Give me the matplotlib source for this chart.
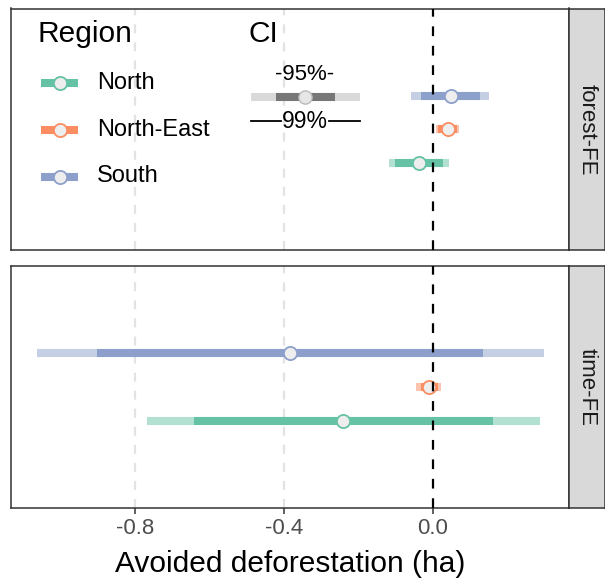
import matplotlib
matplotlib.use("Agg")
import matplotlib.pyplot as plt

plt.rcParams['font.family'] = ['Liberation Sans', 'DejaVu Sans']
plt.rcParams['lines.scale_dashes'] = False

# ---- data ----
regions = ["North", "North-East", "South"]
colors = ["#66C2A5", "#FC8D62", "#8DA0CB"]
panels = ["forest-FE", "time-FE"]

forest_est = [-0.037, 0.039, 0.048]
forest_lo95 = [-0.102, 0.014, -0.032]
forest_hi95 = [0.026, 0.064, 0.126]
forest_lo99 = [-0.118, 0.007, -0.059]
forest_hi99 = [0.044, 0.070, 0.151]

time_est = [-0.241, -0.012, -0.384]
time_lo95 = [-0.643, -0.033, -0.902]
time_hi95 = [0.161, 0.013, 0.134]
time_lo99 = [-0.769, -0.046, -1.063]
time_hi99 = [0.286, 0.021, 0.298]

xticks = [-0.8, -0.4, 0.0]
xtick_labels = ["-0.8", "-0.4", "0.0"]

panel_data = [
    (forest_est, forest_lo95, forest_hi95, forest_lo99, forest_hi99),
    (time_est, time_lo95, time_hi95, time_lo99, time_hi99),
]

W, H = 605, 578
fig = plt.figure(figsize=(W / 100, H / 100), dpi=100)

def fx(px):
    return px / W

def fy(py):
    return 1 - py / H

left_px, right_px = 11, 569
panel_px = [(8.5, 250), (266, 508)]
strip_right = 605

BAR_LW = 5.8
PT_MS = 9.5
border_col = "#333333"

axes = []
for i, (pname, (est, lo95, hi95, lo99, hi99)) in enumerate(zip(panels, panel_data)):
    top, bot = panel_px[i]
    ax = fig.add_axes([fx(left_px), fy(bot), fx(right_px - left_px), (bot - top) / H])
    axes.append(ax)
    ax.set_xlim(-1.133, 0.365)
    ax.set_ylim(1 - 2.6, 3 + 2.6)
    for xv in xticks[:-1]:
        ax.axvline(xv, color="#e3e3e3", lw=1.6, dashes=(6.5, 6.5), zorder=0)
    for j, r in enumerate(regions):
        y = j + 1
        ax.plot([lo99[j], hi99[j]], [y, y], color=colors[j], alpha=0.5, lw=BAR_LW,
                solid_capstyle='butt', zorder=2)
        ax.plot([lo95[j], hi95[j]], [y, y], color=colors[j], lw=BAR_LW,
                solid_capstyle='butt', zorder=3)
        ax.plot([est[j]], [y], marker='o', ms=PT_MS, mfc="#eeeeee", mec=colors[j],
                mew=1.3, zorder=4, ls='none')
    ax.axvline(0, color="black", lw=1.6, dashes=(7, 7), zorder=5)
    ax.set_yticks([])
    for s in ax.spines.values():
        s.set_color(border_col)
        s.set_linewidth(1.1)
    if i == 0:
        ax.set_xticks([])
    else:
        ax.set_xticks(xticks)
        ax.set_xticklabels(xtick_labels, fontsize=16, color="#4d4d4d")
        ax.tick_params(axis='x', length=4, width=1.1, color=border_col, pad=3)
        ax.set_xlabel("Avoided deforestation (ha)", fontsize=21.5, color="black", labelpad=8)

    # strip
    sax = fig.add_axes([fx(right_px), fy(bot), fx(strip_right - right_px), (bot - top) / H])
    sax.set_facecolor("#d9d9d9")
    sax.set_xticks([])
    sax.set_yticks([])
    for s in sax.spines.values():
        s.set_color(border_col)
        s.set_linewidth(1.1)
    sax.text(0.5, 0.5, pname, rotation=270, ha='center', va='center', fontsize=16,
             color="#1a1a1a", transform=sax.transAxes)

# ---- legend inside top panel (pixel coords -> axes coords) ----
ax0 = axes[0]
ptop, pbot = panel_px[0]

def ax_xy(px, py):
    return ((px - left_px) / (right_px - left_px), 1 - (py - ptop) / (pbot - ptop))

tr = ax0.transAxes
x, y = ax_xy(37, 34)
ax0.text(x, y, "Region", fontsize=21.5, ha='left', va='center', transform=tr)
key_y = [83, 130, 176.5]
for j, r in enumerate(regions):
    x1, y1 = ax_xy(40.5, key_y[j])
    x2, _ = ax_xy(78, key_y[j])
    xm, _ = ax_xy(60, key_y[j])
    ax0.plot([x1, x2], [y1, y1], color=colors[j], lw=BAR_LW, solid_capstyle='butt',
             transform=tr, zorder=6)
    ax0.plot([xm], [y1], marker='o', ms=PT_MS, mfc="#eeeeee", mec=colors[j], mew=1.3,
             transform=tr, zorder=7, ls='none')
    xl, _ = ax_xy(97, key_y[j])
    ax0.text(xl, y1, r, fontsize=17, ha='left', va='center', transform=tr)

x, y = ax_xy(249, 34)
ax0.text(x, y, "CI", fontsize=21.5, ha='left', va='center', transform=tr)
x, y = ax_xy(305, 75)
ax0.text(x, y, "-95%-", fontsize=16, ha='center', va='center', transform=tr)
x1, yb = ax_xy(250.7, 96.5)
x2, _ = ax_xy(360, 96.5)
ax0.plot([x1, x2], [yb, yb], color="#d9d9d9", lw=BAR_LW, solid_capstyle='butt', transform=tr, zorder=6)
x1, _ = ax_xy(276, 96.5)
x2, _ = ax_xy(335, 96.5)
ax0.plot([x1, x2], [yb, yb], color="#777777", lw=BAR_LW, solid_capstyle='butt', transform=tr, zorder=7)
xm, _ = ax_xy(305, 96.5)
ax0.plot([xm], [yb], marker='o', ms=PT_MS, mfc="#e6e6e6", mec="#bbbbbb", mew=1.0,
         transform=tr, zorder=8, ls='none')
x, y = ax_xy(305, 121.5)
ax0.text(x, y, "99%", fontsize=16.5, ha='center', va='center', transform=tr)
for a, b in [(251, 281), (329, 360)]:
    x1, yl = ax_xy(a, 121)
    x2, _ = ax_xy(b, 121)
    ax0.plot([x1, x2], [yl, yl], color="black", lw=1.3, transform=tr, zorder=6)

fig.savefig("out.png", dpi=100)
